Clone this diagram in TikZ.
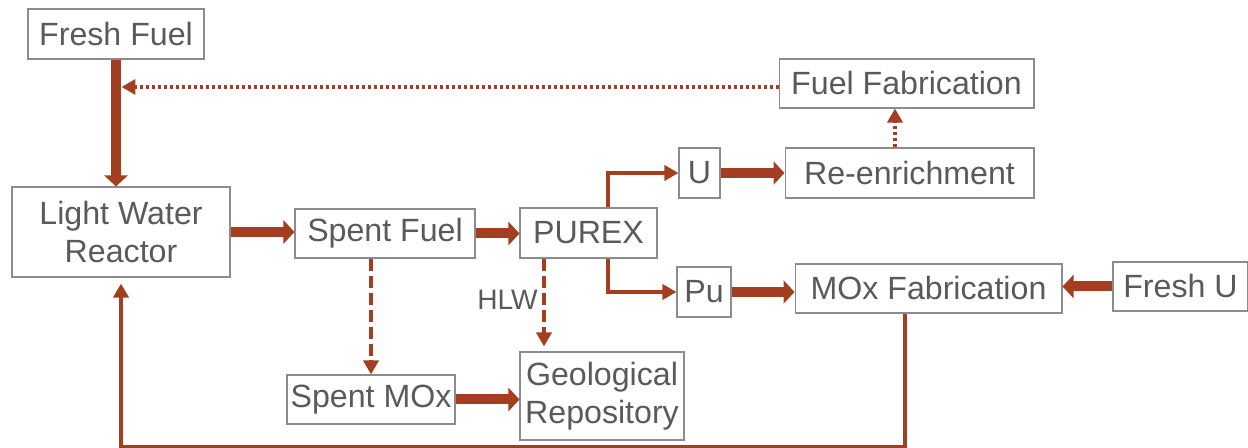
\documentclass[tikz,border=0pt]{standalone}
\usepackage{fontspec}
\setmainfont{Liberation Sans}
\usetikzlibrary{arrows.meta, calc}
\definecolor{rust}{RGB}{163,62,32}
\definecolor{boxline}{RGB}{140,140,140}
\definecolor{labelgray}{RGB}{90,90,90}

\begin{document}
\begin{tikzpicture}[x=0.02cm, y=-0.02cm,
    stage/.style={draw=boxline, line width=0.6pt, fill=white, text=labelgray,
                  inner sep=0pt, align=center,
                  font=\fontsize{18.3}{21.5}\selectfont},
    bigflow/.style={draw=rust, line width=0.2cm,
                    -{Triangle[length=0.22cm, width=0.46cm]}},
    flow/.style={draw=rust, line width=2.2pt,
                 -{Triangle[length=0.28cm, width=0.3cm]}},
    waste/.style={flow, dash pattern=on 0.24cm off 0.1cm},
    recycle/.style={flow, dash pattern=on 0.06cm off 0.06cm}]
    \useasboundingbox (0,0) rectangle (1248,448);

    % reactor line
    \node[stage, minimum width=3.52cm, minimum height=1cm] (freshfuel) at (116,34) {Fresh Fuel};
    \node[stage, minimum width=4.36cm, minimum height=1.8cm] (lwr) at (121,232) {Light Water\\Reactor};
    \node[stage, minimum width=3.6cm, minimum height=0.98cm] (spent) at (385,233.5) {Spent Fuel};
    \node[stage, minimum width=2.74cm, minimum height=1cm] (purex) at (588.5,233) {PUREX};

    % uranium branch
    \node[stage, minimum width=0.82cm, minimum height=1cm] (u) at (699.5,173) {U};
    \node[stage, minimum width=4.98cm, minimum height=1cm] (reenrich) at (909.5,173) {Re-enrichment};
    \node[stage, minimum width=5.1cm, minimum height=0.98cm] (fuelfab) at (906.5,83.5) {Fuel Fabrication};

    % plutonium branch
    \node[stage, minimum width=1.08cm, minimum height=1cm] (pu) at (704,292) {Pu};
    \node[stage, minimum width=5.34cm, minimum height=0.98cm] (moxfab) at (928.5,288.5) {MOx Fabrication};
    \node[stage, minimum width=2.7cm, minimum height=0.98cm] (freshu) at (1180.5,286.5) {Fresh U};

    % waste
    \node[stage, minimum width=3.36cm, minimum height=0.98cm] (spentmox) at (371,399.5) {Spent MOx};
    \node[stage, minimum width=3.28cm, minimum height=1.76cm] (geo) at (602,396) {Geological\\Repository};
    \node[text=labelgray, inner sep=0pt, anchor=east, font=\fontsize{16}{19}\selectfont] (hlw) at (538,300) {HLW};

    % main flows
    \draw[bigflow] (freshfuel.south) -- (freshfuel.south |- lwr.north);
    \foreach \s/\t in {lwr/spent, spent/purex, u/reenrich, pu/moxfab, spentmox/geo}
      \draw[bigflow] (\s.east) -- (\s.east -| \t.west);
    \draw[bigflow] (freshu.west) -- (freshu.west -| moxfab.east);

    % PUREX split
    \draw[flow] ([xshift=0.39cm]purex.north) |- (u.west);
    \draw[flow] ([xshift=0.39cm]purex.south) |- (pu.west);

    % to storage
    \draw[waste] (spent.south -| spentmox.north) -- (spentmox.north);
    \coordinate (hlwx) at ([xshift=-0.89cm]purex.south);
    \draw[waste, shorten >=0.1cm] (hlwx) -- (hlwx |- geo.north);

    % recycled uranium
    \coordinate (feed) at (121.5,87);
    \draw[recycle] ([xshift=-0.29cm]reenrich.north) -- ([xshift=-0.29cm]reenrich.north |- fuelfab.south);
    \draw[recycle] (fuelfab.west |- feed) -- (feed);

    % MOx back to the reactor
    \draw[flow, shorten >=0.12cm] ([xshift=-0.47cm]moxfab.south) -- ++(0,133.5) -| (lwr.south);
\end{tikzpicture}
\end{document}
